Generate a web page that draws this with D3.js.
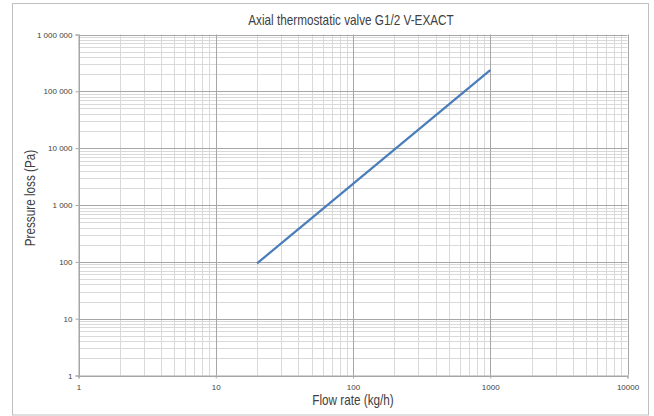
<!DOCTYPE html>
<html>
<head>
<meta charset="utf-8">
<script src="https://cdn.jsdelivr.net/npm/d3@7"></script>
<style>
  html, body { margin: 0; padding: 0; background: #fff; }
  svg { display: block; }
  .narrow { font-family: "Liberation Sans Narrow", "Arial Narrow", "Liberation Sans", sans-serif; }
</style>
</head>
<body>
<svg id="chart" width="654" height="416"></svg>
<script>
const title = "Axial thermostatic valve G1/2 V-EXACT";
const xTitle = "Flow rate (kg/h)";
const yTitle = "Pressure loss (Pa)";
const xTicks = [1, 10, 100, 1000, 10000];
const xTickLabels = ["1", "10", "100", "1000", "10000"];
const yTicks = [1, 10, 100, 1000, 10000, 100000, 1000000];
const yTickLabels = ["1", "10", "100", "1 000", "10 000", "100 000", "1 000 000"];
const flow = [20, 50, 100, 200, 500, 1000];
const pressure = [94, 590, 2360, 9400, 59000, 236000];

const svg = d3.select("#chart");
const m = { left: 78.5, right: 627.5, top: 34.5, bottom: 375.5 };

svg.append("rect").attr("x", 12.5).attr("y", 3.5).attr("width", 636).attr("height", 411.5)
  .attr("fill", "#fff").attr("stroke", "#bfbfbf").attr("stroke-width", 1);

const x = d3.scaleLog().domain([1, 10000]).range([m.left, m.right]);
const y = d3.scaleLog().domain([1, 1000000]).range([m.bottom, m.top]);

const minorX = [];
for (let d = 1; d < 10000; d *= 10) for (let k = 2; k <= 9; k++) minorX.push(d * k);
const minorY = [];
for (let d = 1; d < 1000000; d *= 10) for (let k = 2; k <= 9; k++) minorY.push(d * k);

const g = svg.append("g");
g.selectAll("line.mx").data(minorX).enter().append("line")
  .attr("x1", d => Math.round(x(d)) + 0.5).attr("x2", d => Math.round(x(d)) + 0.5)
  .attr("y1", m.top).attr("y2", m.bottom).attr("stroke", "#d9d9d9").attr("stroke-width", 1);
g.selectAll("line.my").data(minorY).enter().append("line")
  .attr("y1", d => Math.round(y(d)) + 0.5).attr("y2", d => Math.round(y(d)) + 0.5)
  .attr("x1", m.left).attr("x2", m.right).attr("stroke", "#d9d9d9").attr("stroke-width", 1);
g.selectAll("line.Mx").data(xTicks).enter().append("line")
  .attr("x1", d => Math.round(x(d)) + 0.5).attr("x2", d => Math.round(x(d)) + 0.5)
  .attr("y1", m.top).attr("y2", m.bottom).attr("stroke", "#a6a6a6").attr("stroke-width", 1);
g.selectAll("line.My").data(yTicks).enter().append("line")
  .attr("y1", d => Math.round(y(d)) + 0.5).attr("y2", d => Math.round(y(d)) + 0.5)
  .attr("x1", m.left).attr("x2", m.right).attr("stroke", "#a6a6a6").attr("stroke-width", 1);

const xAxis = d3.axisBottom(x).tickValues(xTicks).tickFormat((d, i) => xTickLabels[i]).tickSize(3).tickPadding(6);
const yAxis = d3.axisLeft(y).tickValues(yTicks).tickFormat((d, i) => yTickLabels[i]).tickSize(3).tickPadding(3);
const gx = svg.append("g").attr("transform", `translate(0,${m.bottom})`).call(xAxis);
const gy = svg.append("g").attr("transform", `translate(${m.left},0)`).call(yAxis);
[gx, gy].forEach(a => {
  a.select(".domain").attr("stroke", "#a6a6a6");
  a.selectAll(".tick line").attr("stroke", "#a6a6a6");
  a.selectAll(".tick text").attr("fill", "#404040").style("font-size", "8px")
    .style("font-family", "'Liberation Sans Narrow', 'Liberation Sans', sans-serif");
});

const line = d3.line().x((d, i) => x(flow[i])).y(d => y(d));
svg.append("path").datum(pressure).attr("d", line).attr("fill", "none")
  .attr("stroke", "#4a7ebb").attr("stroke-width", 2.25);

const sx = 0.84;
svg.append("text").attr("class", "narrow").attr("transform", `translate(351,25) scale(${sx},1)`)
  .attr("text-anchor", "middle").attr("fill", "#404040").style("font-size", "14px").text(title);
svg.append("text").attr("class", "narrow").attr("transform", `translate(353,405) scale(${sx},1)`)
  .attr("text-anchor", "middle").attr("fill", "#404040").style("font-size", "14px").text(xTitle);
svg.append("text").attr("class", "narrow").attr("transform", `translate(35,198) rotate(-90) scale(${sx},1)`)
  .attr("text-anchor", "middle").attr("fill", "#404040").style("font-size", "14px").text(yTitle);
</script>
</body>
</html>
